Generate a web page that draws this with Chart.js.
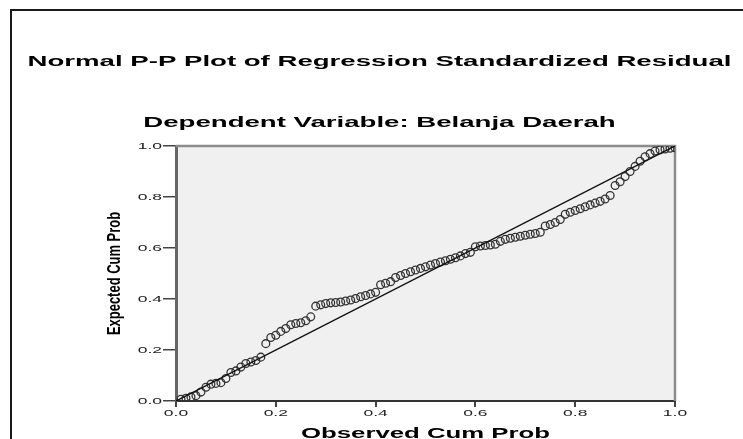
<!DOCTYPE html>
<html>
<head>
<meta charset="utf-8">
<title>Normal P-P Plot</title>
<script src="https://cdn.jsdelivr.net/npm/chart.js@4.4.1/dist/chart.umd.min.js"></script>
<style>
  html, body { margin: 0; padding: 0; background: #fff; overflow: hidden; }
  #frame { position: absolute; left: 10px; top: 9px; width: 780px; height: 480px; border: 2px solid #1a1a1a; }
  #wrap { position: absolute; left: 0; top: 0; width: 743px; height: 439px; }
</style>
</head>
<body>
<div id="frame"></div>
<div id="wrap"><canvas id="ppPlot"></canvas></div>
<script>
(function () {
    'use strict';

    // Texts
    var chartTitle = 'Normal P-P Plot of Regression Standardized Residual';
    var subTitle   = 'Dependent Variable: Belanja Daerah';
    var xTitle     = 'Observed Cum Prob';
    var yTitle     = 'Expected Cum Prob';

    // Axis ticks
    var tickValues = [0, 0.2, 0.4, 0.6, 0.8, 1.0];
    var tickLabels = ['0.0', '0.2', '0.4', '0.6', '0.8', '1.0'];

    // Residual points
    var observedProb = [
        0.01, 0.02, 0.03, 0.04, 0.05, 0.06, 0.07, 0.08, 0.09, 0.10,
        0.11, 0.12, 0.13, 0.14, 0.15, 0.16, 0.17, 0.18, 0.19, 0.20,
        0.21, 0.22, 0.23, 0.24, 0.25, 0.26, 0.27, 0.28, 0.29, 0.30,
        0.31, 0.32, 0.33, 0.34, 0.35, 0.36, 0.37, 0.38, 0.39, 0.40,
        0.41, 0.42, 0.43, 0.44, 0.45, 0.46, 0.47, 0.48, 0.49, 0.50,
        0.51, 0.52, 0.53, 0.54, 0.55, 0.56, 0.57, 0.58, 0.59, 0.60,
        0.61, 0.62, 0.63, 0.64, 0.65, 0.66, 0.67, 0.68, 0.69, 0.70,
        0.71, 0.72, 0.73, 0.74, 0.75, 0.76, 0.77, 0.78, 0.79, 0.80,
        0.81, 0.82, 0.83, 0.84, 0.85, 0.86, 0.87, 0.88, 0.89, 0.90,
        0.91, 0.92, 0.93, 0.94, 0.95, 0.96, 0.97, 0.98, 0.99, 1.00
    ];
    var expectedProb = [
        0.007, 0.011, 0.016, 0.021, 0.035, 0.054, 0.066, 0.069, 0.072, 0.088,
        0.112, 0.118, 0.133, 0.147, 0.153, 0.159, 0.172, 0.225, 0.249, 0.258,
        0.273, 0.284, 0.299, 0.304, 0.307, 0.315, 0.330, 0.372, 0.377, 0.382,
        0.385, 0.386, 0.388, 0.392, 0.396, 0.402, 0.409, 0.414, 0.420, 0.426,
        0.456, 0.462, 0.468, 0.484, 0.492, 0.500, 0.507, 0.514, 0.520, 0.526,
        0.533, 0.539, 0.545, 0.550, 0.556, 0.562, 0.569, 0.578, 0.583, 0.605,
        0.608, 0.610, 0.612, 0.615, 0.626, 0.634, 0.638, 0.642, 0.646, 0.650,
        0.654, 0.657, 0.662, 0.686, 0.692, 0.700, 0.712, 0.732, 0.740, 0.747,
        0.754, 0.762, 0.769, 0.776, 0.783, 0.792, 0.806, 0.845, 0.860, 0.880,
        0.900, 0.920, 0.940, 0.958, 0.970, 0.980, 0.985, 0.988, 0.991, 0.993
    ];

    // Reference diagonal
    var refLineX = [0, 1];
    var refLineY = [0, 1];

    var WIDE = 1.84;    // SPSS text looks horizontally stretched
    var NARROW = 0.72;  // rotated y title looks condensed

    Chart.defaults.font.family = '"Liberation Sans", Arial, sans-serif';

    // stretch every text drawn on the canvas around its anchor
    var wideText = {
        id: 'wideText',
        beforeInit: function (chart) {
            var ctx = chart.ctx;
            var fill = ctx.fillText;
            ctx.fillText = function (text, x, y) {
                var m = this.getTransform();
                var sx = Math.abs(m.b) > 0.5 ? NARROW : WIDE;
                this.save();
                this.translate(x, y);
                this.scale(sx, 1);
                fill.call(this, text, 0, 0);
                this.restore();
            };
        }
    };

    // grey plot background + top/right frame
    var plotFrame = {
        id: 'plotFrame',
        beforeDraw: function (chart) {
            var a = chart.chartArea;
            var ctx = chart.ctx;
            ctx.save();
            ctx.fillStyle = '#f0f0f0';
            ctx.fillRect(a.left, a.top, a.right - a.left, a.bottom - a.top);
            ctx.restore();
        },
        beforeDatasetsDraw: function (chart) {
            var a = chart.chartArea;
            var ctx = chart.ctx;
            ctx.save();
            ctx.strokeStyle = '#8c8c8c';
            ctx.lineWidth = 2.5;
            ctx.beginPath();
            ctx.moveTo(a.left, a.top);
            ctx.lineTo(a.right, a.top);
            ctx.lineTo(a.right, a.bottom);
            ctx.stroke();
            ctx.restore();
        }
    };

    var points = observedProb.map(function (x, i) {
        return { x: x, y: expectedProb[i] };
    });
    var refLine = refLineX.map(function (x, i) {
        return { x: x, y: refLineY[i] };
    });

    function fixTicks(scale) {
        scale.ticks = tickValues.map(function (v) { return { value: v }; });
    }
    function tickText(value, index) {
        return tickLabels[index];
    }

    var config = {
        type: 'scatter',
        data: {
            datasets: [{
                type: 'line',
                data: refLine,
                borderColor: '#111',
                borderWidth: 1.4,
                pointRadius: 0,
                fill: false
            }, {
                data: points,
                pointStyle: 'circle',
                pointRadius: 3.9,
                borderColor: '#333',
                borderWidth: 1.3,
                backgroundColor: 'rgba(0,0,0,0)'
            }]
        },
        options: {
            responsive: true,
            maintainAspectRatio: false,
            animation: false,
            layout: { padding: { left: 84, right: 68, top: 0, bottom: 0 } },
            plugins: {
                legend:  { display: false },
                tooltip: { enabled: false },
                title: {
                    display: true,
                    text: chartTitle,
                    color: '#000',
                    font: { size: 15, weight: 'bold' },
                    padding: { top: 53, bottom: 0 }
                },
                subtitle: {
                    display: true,
                    text: subTitle,
                    color: '#000',
                    font: { size: 15, weight: 'bold' },
                    padding: { top: 43, bottom: 14 }
                }
            },
            scales: {
                x: {
                    type: 'linear',
                    min: 0,
                    max: 1,
                    afterBuildTicks: fixTicks,
                    afterFit: function (s) { s.height = 38; },
                    ticks: { callback: tickText, padding: 1, color: '#222', font: { size: 9.5 }, maxRotation: 0 },
                    grid: { display: true, drawOnChartArea: false, drawTicks: true, tickLength: 6, color: '#444', lineWidth: 2 },
                    border: { display: true, color: '#333', width: 2 },
                    title: { display: true, text: xTitle, color: '#000', padding: 0, font: { size: 14, weight: 'bold', lineHeight: 0.7 } }
                },
                y: {
                    type: 'linear',
                    min: 0,
                    max: 1,
                    afterBuildTicks: fixTicks,
                    afterFit: function (s) { s.width = 92; },
                    ticks: { callback: tickText, padding: 1, color: '#222', font: { size: 9.5 } },
                    grid: { display: true, drawOnChartArea: false, drawTicks: true, tickLength: 13, color: '#444', lineWidth: 1.5 },
                    border: { display: true, color: '#666', width: 3 },
                    title: { display: true, text: yTitle, color: '#000', padding: { top: 20, bottom: 0 }, font: { size: 18, weight: 'bold' } }
                }
            }
        },
        plugins: [wideText, plotFrame]
    };

    new Chart(document.getElementById('ppPlot'), config);
}());
</script>
</body>
</html>
